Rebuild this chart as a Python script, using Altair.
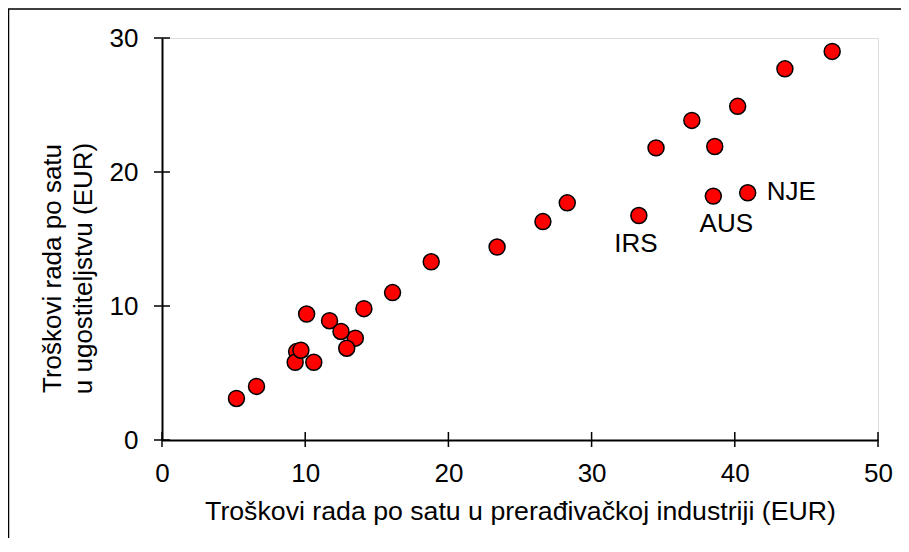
import altair as alt
import pandas as pd

# Hourly labour costs (EUR)
manufacturing = [5.2, 6.6, 9.4, 9.3, 10.6, 9.7, 10.1, 13.5, 11.7, 12.5, 12.9, 14.1, 16.1,
                 18.8, 23.4, 26.6, 28.3, 33.3, 34.5, 37.0, 38.5, 38.6, 40.2, 40.9, 43.5, 46.8]
hospitality = [3.1, 4.0, 6.6, 5.8, 5.8, 6.7, 9.4, 7.6, 8.9, 8.1, 6.85, 9.8, 11.0,
               13.3, 14.4, 16.3, 17.7, 16.75, 21.8, 23.85, 18.2, 21.9, 24.9, 18.45, 27.7, 29.0]
labels = ["", "", "", "", "", "", "", "", "", "", "", "", "",
          "", "", "", "", "IRS", "", "", "AUS", "", "", "NJE", "", ""]

x_ticks = [0, 10, 20, 30, 40, 50]
y_ticks = [0, 10, 20, 30]
x_title = "Troškovi rada po satu u prerađivačkoj industriji (EUR)"
y_title = ["Troškovi rada po satu", "u ugostiteljstvu (EUR)"]

df = pd.DataFrame({"x": manufacturing, "y": hospitality, "label": labels})
xt_df = pd.DataFrame({"xt": x_ticks})
yt_df = pd.DataFrame({"yt": y_ticks})

FONT = "Liberation Sans"
FS = 26

x_scale = alt.Scale(domain=[0, 50], nice=False, zero=False)
y_scale = alt.Scale(domain=[0, 30], nice=False, zero=False)

x_axis = alt.Axis(
    values=x_ticks, orient="bottom", domain=True, domainColor="black", domainWidth=2,
    ticks=False, tickSize=0, grid=False, labelFlush=False,
    labelFont=FONT, labelFontSize=FS, labelColor="black", labelPadding=20,
    title=x_title, titleFont=FONT, titleFontSize=26.7, titleFontWeight="normal",
    titleColor="black", titleBaseline="alphabetic", titleY=79)
y_axis = alt.Axis(
    values=y_ticks, orient="left", domain=True, domainColor="black", domainWidth=2,
    ticks=False, tickSize=0, grid=False, labelFlush=False,
    labelFont=FONT, labelFontSize=FS, labelColor="black", labelPadding=24,
    title=y_title, titleFont=FONT, titleFontSize=FS, titleFontWeight="normal",
    titleColor="black", titleAngle=270, titleAlign="center", titleBaseline="top",
    titleLineHeight=31, titleX=-123, titleY=230)

base = alt.Chart(df)

# frame around the whole chart (decoration)
frame = alt.Chart(alt.Data(values=[{"a": 1}])).mark_rect(
    fill="white", fillOpacity=0, stroke="black", strokeWidth=1.5
).encode(
    x=alt.value(-153.5), x2=alt.value(760), y=alt.value(-29), y2=alt.value(520)
)

# tick marks crossing the axis lines
x_tick_marks = alt.Chart(xt_df).mark_rule(color="black", strokeWidth=1.5).encode(
    x=alt.X("xt:Q", scale=x_scale, axis=x_axis),
    y=alt.value(394), y2=alt.value(409),
)
y_tick_marks = alt.Chart(yt_df).mark_rule(color="black", strokeWidth=1.5).encode(
    y=alt.Y("yt:Q", scale=y_scale, axis=y_axis),
    x=alt.value(-8), x2=alt.value(8),
)

points = base.mark_circle(
    size=255, color="#FF0000", stroke="black", strokeWidth=1.5, opacity=1
).encode(
    x=alt.X("x:Q", scale=x_scale, axis=x_axis),
    y=alt.Y("y:Q", scale=y_scale, axis=y_axis),
)

label_style = {
    "IRS": {"align": "center", "dx": -3, "dy": 28},
    "AUS": {"align": "center", "dx": 13, "dy": 28},
    "NJE": {"align": "left", "dx": 19, "dy": -1},
}

texts = []
for name, st in label_style.items():
    texts.append(
        base.transform_filter(alt.datum.label == name).mark_text(
            font=FONT, fontSize=FS, color="black", baseline="middle", **st
        ).encode(
            x=alt.X("x:Q", scale=x_scale, axis=x_axis),
            y=alt.Y("y:Q", scale=y_scale, axis=y_axis),
            text="label:N",
        )
    )

chart = alt.layer(frame, x_tick_marks, y_tick_marks, points, *texts).properties(
    width=716, height=402,
    autosize=alt.AutoSizeParams(type="none"),
    padding={"left": 154, "top": 30, "right": 23, "bottom": 98},
).configure_view(stroke=None).configure(background="white")

chart.save("out.html", embed_options={"renderer": "svg", "actions": False})
